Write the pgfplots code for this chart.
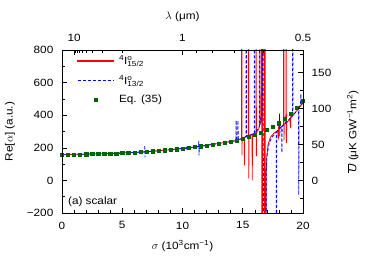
\documentclass[border=0pt]{standalone}
\usepackage{fontspec}
\setmainfont{Liberation Sans}[FakeStretch=1.12]
\usepackage{pgfplots}
\pgfplotsset{compat=1.18}
\definecolor{dgreen}{RGB}{0,100,0}
\newcommand{\term}[1]{\textsuperscript{4}I\makebox[0pt][l]{\textsuperscript{o}}\textsubscript{#1}}
\begin{document}
\fontsize{10.5}{12}\selectfont
\begin{tikzpicture}
\useasboundingbox (0,0) rectangle (382pt,266pt);
\begin{axis}[
  at={(62pt,53pt)}, anchor=south west,
  width=241pt, height=163pt, scale only axis,
  xmin=0, xmax=20, ymin=-200, ymax=800,
  xtick={0,5,10,15,20}, xticklabels={0,5,10,15,20},
  minor x tick num=4,
  ytick={-200,0,200,400,600,800}, yticklabels={−200,0,200,400,600,800},
  minor y tick num=1,
  xtick pos=lower, ytick pos=lower,
  tick align=inside,
  major tick length=5pt, minor tick length=3pt,
  tick style={black, line width=0.6pt},
  axis line style={line width=0.8pt},
  xticklabel style={yshift=-5pt}, yticklabel style={xshift=-5pt},
  xlabel={$\sigma$ (10\textsuperscript{3}cm\textsuperscript{−1})},
  ylabel={Re[$\alpha$] (a.u.)},
  xlabel style={at={(axis description cs:0.5,-0.2025)}, anchor=center},
  ylabel style={at={(axis description cs:-0.216,0.5)}, anchor=center},
  legend style={draw=none, fill=none, at={(axis description cs:0.05,0.99)}, anchor=north west,
    row sep=5pt, column sep=3pt},
  legend cell align=left,
]
\addplot[red, line width=0.8pt,
  legend image code/.code={\path (0pt,0pt); \fill[fill=red] (0pt,-0.3pt) rectangle (36pt,0.3pt);}] coordinates {
(0,159) (1,160) (2,161) (3,163) (4,165) (5,168) (6,172) (7,176) (8,182) (9,188)
(10,196) (11,205) (12,215) (13,227) (14,238) (14.5,246) (14.9,256)
(14.92,2000) (14.935,153) (14.95,258)
(15.13,264) (15.14,92) (15.16,266)
(15.45,274) (15.48,2000) (15.5,12) (15.52,277)
(15.77,283) (15.79,0) (15.81,285)
(16.1,292) (16.12,2000) (16.13,150) (16.15,295)
(16.35,320) (16.5,370)
(16.56,2000) (16.58,-2000) (16.64,-2000) (16.65,2000) (16.78,2000) (16.79,-2000)
(16.84,-2000) (16.85,2000) (16.86,2000) (16.87,-2000)
(16.95,40) (17.0,150) (17.1,220) (17.3,265) (17.6,290) (17.9,305)
(17.95,250) (17.98,330) (18.05,318) (18.2,330) (18.38,340)
(18.4,2000) (18.42,245) (18.45,345) (18.58,350) (18.6,2000) (18.62,230) (18.65,355)
(18.9,375) (18.98,320) (19.0,415) (19.02,385) (19.5,430) (20,475)
};
\addlegendentry{\term{15/2}}
\addplot[blue, line width=0.8pt, dash pattern=on 3pt off 2pt,
  legend image code/.code={\draw[blue, line width=0.8pt, dash pattern=on 3pt off 2pt] (0pt,0pt) -- (36pt,0pt);}] coordinates {
(0,159) (1,160) (2,161) (3,163) (4,165) (5,168) (6,172)
(6.85,175) (6.87,215) (6.89,141) (6.91,176)
(7,176) (8,182) (9,188) (10,196)
(10.28,198) (10.3,210) (10.32,188) (10.34,199)
(11,205) (11.33,206) (11.35,241) (11.37,153) (11.39,207)
(12,215) (13,227) (14,238)
(14.43,243) (14.45,368) (14.47,276) (14.49,245)
(14.58,247) (14.6,368) (14.62,276) (14.64,249)
(15,258) (15.27,268) (15.29,2000) (15.31,268)
(15.96,288) (15.98,2000) (16.0,289)
(16.37,330) (16.39,2000) (16.41,335)
(16.6,420) (16.7,2000) (16.72,-2000) (16.85,-2000)
(16.95,60) (17.0,147) (17.2,230) (17.4,262) (17.7,290)
(17.78,298) (17.8,-2000) (17.82,300)
(18.03,318) (18.05,410) (18.07,270) (18.09,320)
(18.23,330) (18.25,170) (18.27,333)
(18.7,365) (19.13,395) (19.15,2000) (19.17,398)
(19.63,440) (19.65,-90) (19.67,445)
(19.8,470) (19.82,530) (19.84,465) (20,478)
};
\addlegendentry{\term{13/2}}
\addplot[only marks, mark=square*, mark size=1.6pt, draw=dgreen, fill=dgreen,
  legend image code/.code={\fill[dgreen] (16.4pt,-1.6pt) rectangle (19.6pt,1.6pt);}] coordinates {
(0,159) (0.5,159) (1,160) (1.5,160) (2,161) (2.5,162) (3,163) (3.5,164) (4,165) (4.5,166)
(5,168) (5.5,170) (6,172) (6.5,174) (7,176) (7.5,179) (8,182) (8.5,185) (9,188) (9.5,192)
(10,196) (10.5,200) (11,205) (11.5,210) (12,215) (12.5,221) (13,227) (13.5,233) (14,238) (14.5,246)
(15,258) (15.5,270) (16,282) (16.5,294) (17,311) (17.5,329) (18,351) (18.5,378) (19,409) (19.5,446)
(20,490)
};
\addlegendentry{Eq. (35)}
\node[anchor=west] at (axis cs:0.2,-133) {(a) scalar};
\end{axis}
\begin{axis}[
  at={(62pt,53pt)}, anchor=south west,
  width=241pt, height=163pt, scale only axis,
  xmin=0, xmax=20, ymin=-45.3, ymax=181.3,
  xtick={1,10,20}, xticklabels={10,1,0.5},
  minor xtick={1.1111,1.25,1.4286,1.6667,2,2.5,3.3333,5,11.111,12.5,14.286,16.667},
  ytick={0,50,100,150}, yticklabels={0,50,100,150},
  minor ytick={-25,25,75,125,175},
  xtick pos=upper, ytick pos=upper, xticklabel pos=upper, yticklabel pos=upper,
  tick align=inside,
  major tick length=5pt, minor tick length=3pt,
  tick style={black, line width=0.6pt},
  axis line style={line width=0.8pt},
  xticklabel style={yshift=5pt}, yticklabel style={xshift=5pt},
  xlabel={$\lambda$ (μm)},
  ylabel={$\overline{\mbox{\itshape U}}$ (μK GW\textsuperscript{−1}m\textsuperscript{2})},
  xlabel style={at={(axis description cs:0.5,1.202)}, anchor=center},
  ylabel style={at={(axis description cs:1.207,0.5)}, anchor=center},
]
\end{axis}
\end{tikzpicture}
\end{document}
